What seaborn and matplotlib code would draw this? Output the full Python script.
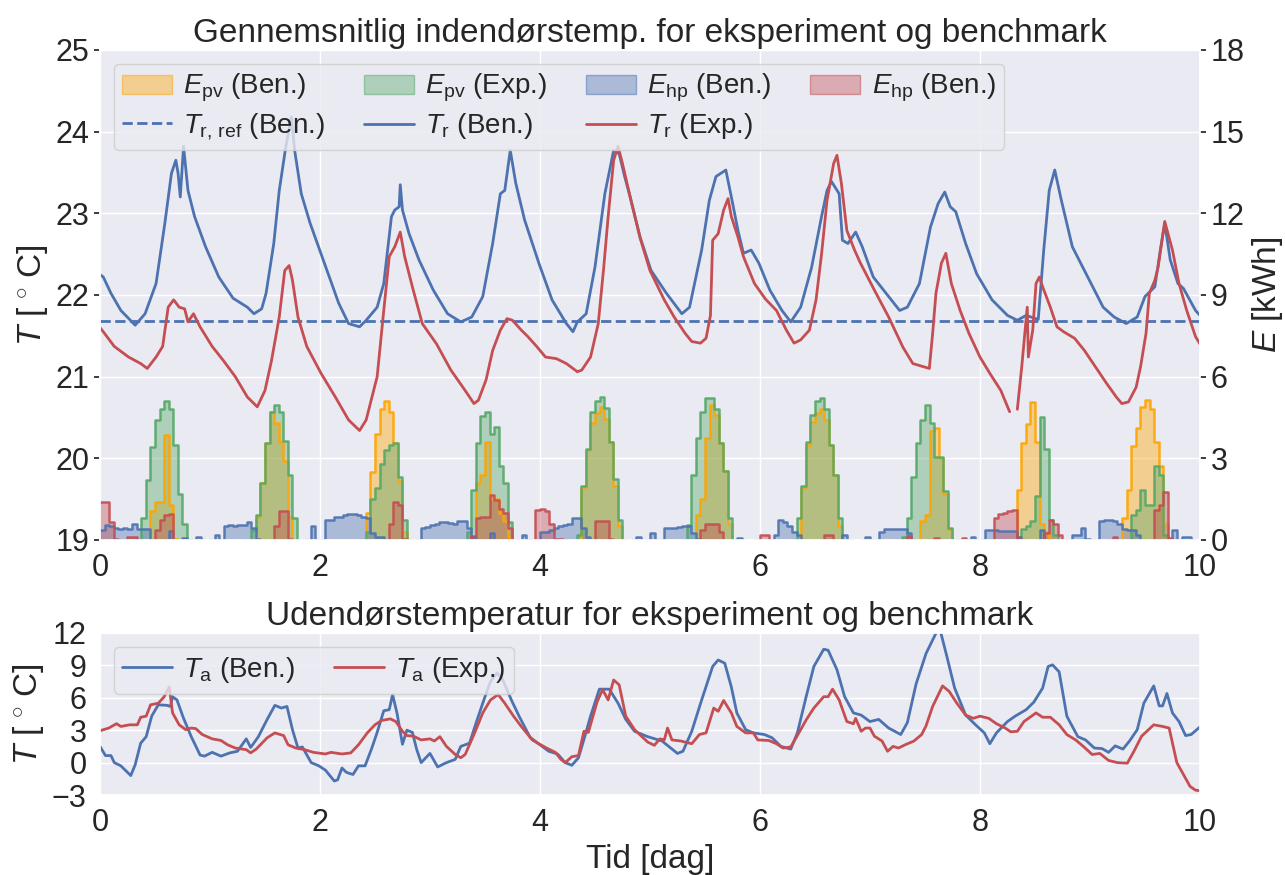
import numpy as np
import matplotlib
matplotlib.use("Agg")
import matplotlib.pyplot as plt
import seaborn as sns
from matplotlib.patches import Patch
from matplotlib.lines import Line2D
from matplotlib.colors import to_rgba

# --- indendørstemperatur (tid i dage, T i grader C) ---
tr_ben_t = [0.0, 0.03, 0.10, 0.19, 0.32, 0.41, 0.51, 0.59, 0.65, 0.69, 0.71, 0.73, 0.76, 0.80, 0.86, 0.96,
            1.08, 1.21, 1.34, 1.40, 1.47, 1.51, 1.58, 1.63, 1.69, 1.74, 1.77, 1.83, 1.91, 2.04, 2.17, 2.26,
            2.36, 2.42, 2.52, 2.58, 2.65, 2.68, 2.72, 2.73, 2.75, 2.81, 2.90, 3.03, 3.16, 3.28, 3.38, 3.48,
            3.57, 3.64, 3.68, 3.73, 3.78, 3.86, 3.99, 4.11, 4.24, 4.30, 4.34, 4.42, 4.50, 4.59, 4.67, 4.72,
            4.77, 4.82, 4.91, 5.01, 5.15, 5.29, 5.36, 5.47, 5.54, 5.60, 5.69, 5.74, 5.80, 5.85, 5.92, 5.99,
            6.09, 6.20, 6.28, 6.37, 6.47, 6.56, 6.61, 6.65, 6.72, 6.75, 6.80, 6.87, 6.93, 7.03, 7.17, 7.27,
            7.34, 7.45, 7.55, 7.62, 7.68, 7.73, 7.78, 7.87, 7.97, 8.11, 8.25, 8.34, 8.42, 8.53, 8.58, 8.63,
            8.68, 8.74, 8.84, 8.98, 9.12, 9.22, 9.33, 9.43, 9.50, 9.59, 9.64, 9.68, 9.73, 9.80, 9.85, 9.96, 10.0]
tr_ben = [22.25, 22.22, 22.02, 21.81, 21.63, 21.77, 22.14, 22.88, 23.49, 23.65, 23.49, 23.2, 23.82, 23.28, 22.96, 22.59,
          22.22, 21.96, 21.85, 21.77, 21.83, 22.02, 22.63, 23.28, 23.82, 24.18, 23.77, 23.24, 22.88, 22.39, 21.9, 21.65,
          21.61, 21.69, 21.85, 22.14, 22.96, 23.04, 23.08, 23.35, 23.04, 22.75, 22.43, 22.06, 21.77, 21.67, 21.73, 21.98,
          22.63, 23.24, 23.28, 23.77, 23.37, 22.92, 22.39, 21.94, 21.65, 21.55, 21.67, 21.77, 22.34, 23.24, 23.77, 23.73,
          23.45, 23.2, 22.71, 22.3, 22.02, 21.77, 21.85, 22.55, 23.16, 23.45, 23.53, 23.2, 22.79, 22.51, 22.55, 22.39,
          22.06, 21.81, 21.67, 21.85, 22.34, 22.96, 23.28, 23.39, 23.24, 22.67, 22.63, 22.77, 22.59, 22.22, 21.98, 21.81,
          21.85, 22.14, 22.83, 23.12, 23.26, 23.08, 23.02, 22.63, 22.26, 21.94, 21.75, 21.69, 21.75, 21.7, 22.55, 23.28,
          23.53, 23.16, 22.59, 22.22, 21.85, 21.73, 21.65, 21.73, 21.98, 22.1, 22.55, 22.88, 22.43, 22.14, 22.08, 21.81, 21.75]

tr_exp_t = [0.0, 0.03, 0.13, 0.26, 0.37, 0.43, 0.51, 0.57, 0.62, 0.67, 0.72, 0.77, 0.80, 0.85, 0.91, 1.02,
            1.12, 1.23, 1.34, 1.43, 1.50, 1.56, 1.63, 1.68, 1.72, 1.75, 1.80, 1.88, 2.01, 2.14, 2.26, 2.36,
            2.42, 2.52, 2.58, 2.63, 2.68, 2.73, 2.77, 2.84, 2.93, 3.06, 3.19, 3.32, 3.40, 3.44, 3.51, 3.57,
            3.64, 3.70, 3.75, 3.83, 3.89, 3.97, 4.05, 4.15, 4.24, 4.34, 4.38, 4.46, 4.53, 4.58, 4.62, 4.67,
            4.71, 4.75, 4.82, 4.91, 5.0, 5.13, 5.22, 5.32, 5.38, 5.46, 5.51, 5.55, 5.57, 5.62, 5.67, 5.71,
            5.74, 5.80, 5.85, 5.95, 6.05, 6.15, 6.24, 6.31, 6.37, 6.45, 6.51, 6.56, 6.61, 6.67, 6.70, 6.74,
            6.79, 6.86, 6.91, 7.04, 7.17, 7.30, 7.39, 7.49, 7.54, 7.57, 7.60, 7.65, 7.69, 7.74, 7.82, 7.90,
            8.00, 8.09, 8.19, 8.27, 8.30, 8.34, 8.38, 8.43, 8.44, 8.48, 8.51, 8.54, 8.57, 8.64, 8.70, 8.76,
            8.86, 8.95, 9.05, 9.15, 9.24, 9.29, 9.35, 9.42, 9.46, 9.51, 9.54, 9.59, 9.62, 9.68, 9.75, 9.81,
            9.88, 9.96, 10.0]
tr_exp = [21.6, 21.55, 21.37, 21.24, 21.16, 21.1, 21.24, 21.37, 21.85, 21.94, 21.85, 21.83, 21.67, 21.77, 21.61, 21.37,
          21.2, 21.0, 20.75, 20.63, 20.83, 21.2, 21.73, 22.3, 22.36, 22.18, 21.73, 21.37, 21.04, 20.75, 20.47, 20.34,
          20.47, 21.0, 21.81, 22.47, 22.59, 22.77, 22.47, 22.1, 21.65, 21.4, 21.08, 20.83, 20.67, 20.71, 20.96, 21.32,
          21.57, 21.71, 21.69, 21.57, 21.49, 21.37, 21.24, 21.22, 21.16, 21.06, 21.08, 21.24, 21.65, 22.34, 22.96, 23.65,
          23.82, 23.61, 23.2, 22.7, 22.3, 21.94, 21.73, 21.53, 21.43, 21.41, 21.47, 21.75, 22.67, 22.75, 23.04, 23.18,
          22.96, 22.71, 22.47, 22.14, 21.95, 21.81, 21.57, 21.41, 21.45, 21.57, 21.94, 22.5, 23.16, 23.61, 23.71, 23.37,
          22.79, 22.55, 22.4, 22.06, 21.73, 21.36, 21.16, 21.12, 21.1, 21.53, 22.02, 22.39, 22.51, 22.14, 21.81, 21.53,
          21.24, 21.04, 20.83, 20.57, np.nan, 20.6, 21.12, 21.85, 21.24, 21.57, 22.14, 22.22, 22.1, 21.85, 21.61, 21.55,
          21.47, 21.32, 21.12, 20.92, 20.75, 20.67, 20.69, 20.87, 21.12, 21.53, 22.02, 22.18, 22.34, 22.9, 22.55, 22.14,
          21.81, 21.49, 21.4]
tr_ref = 21.68

# --- energi pr. time [kWh], en raekke pr. dag ---
epv_ben = [
    [0]*11 + [1.05, 1.4, 1.4, 3.85, 1.3, 0.05] + [0]*7,
    [0]*10 + [0.85, 2.1, 3.55, 4.7, 4.3, 3.6, 2.9, 0.85] + [0]*6,
    [0]*10 + [1.0, 2.5, 3.9, 4.8, 5.1, 4.7, 3.55, 2.15, 0.3] + [0]*5,
    [0]*10 + [2.1, 2.4, 3.6, 1.5, 1.5, 1.0, 0.7, 0.1] + [0]*6,
    [0]*9 + [1.9, 3.3, 4.3, 4.65, 4.9, 4.45, 3.6, 2.0, 0.5] + [0]*6,
    [0]*10 + [0.9, 1.5, 3.75, 4.95, 4.6, 3.55, 2.55, 0.6] + [0]*6,
    [0]*9 + [1.9, 3.5, 4.35, 4.65, 4.8, 4.4, 3.5, 2.4, 0.5] + [0]*6,
    [0]*11 + [0.7, 0.9, 4.0, 4.1, 3.0, 1.7, 0.4] + [0]*6,
    [0]*8 + [1.85, 3.55, 4.25, 5.05, 3.6, 0.6, 0.3] + [0]*9,
    [0]*7 + [0.8, 1.85, 3.45, 4.1, 4.9, 5.15, 4.8, 3.6, 2.7, 0.6] + [0]*7,
]
epv_exp = [
    [0]*9 + [0.8, 2.2, 3.4, 4.4, 4.8, 5.1, 4.8, 3.5, 1.7, 0.6] + [0]*5,
    [0]*9 + [0.35, 0.9, 2.1, 3.55, 4.7, 4.95, 4.7, 3.65, 2.4, 0.8] + [0]*5,
    [0]*10 + [0.3, 1.5, 1.9, 2.8, 3.3, 3.5, 3.55, 2.3, 0.75] + [0]*5,
    [0]*8 + [0.3, 1.85, 3.55, 4.55, 4.7, 3.9, 4.15, 2.7, 2.1, 0.65] + [0]*6,
    [0]*8 + [0.2, 2.0, 3.35, 4.7, 5.1, 5.25, 4.85, 3.6, 2.25, 0.75] + [0]*6,
    [0]*8 + [0.55, 2.4, 3.75, 4.7, 5.2, 5.2, 4.8, 3.55, 2.55, 0.8] + [0]*6,
    [0]*8 + [0.8, 2.0, 3.6, 4.6, 5.1, 5.2, 4.8, 3.5, 2.4, 0.8] + [0]*6,
    [0]*7 + [0.1, 0.8, 2.3, 3.55, 4.4, 4.95, 4.3, 3.05, 3.05, 1.8, 0.45] + [0]*6,
    [0]*8 + [0.1, 0.4, 0.5, 0.7, 1.6, 4.5, 3.35, 0.75, 0.2] + [0]*7,
    [0]*9 + [0.9, 1.1, 1.85, 1.3, 1.3, 2.7, 2.4, 0.2] + [0]*7,
]
ehp_ben = [
    [0.37, 0.55, 0.5, 0.45, 0.4, 0.45, 0.42, 0.6, 0.4, 0.4, 0.4, 0, 0, 0, 0, 0.33, 0, 0, 0.06, 0, 0, 0.12, 0, 0],
    [0, 0.2, 0, 0.5, 0.55, 0.5, 0.55, 0.55, 0.67, 0.43, 0.05] + [0]*11 + [0.5, 0],
    [0, 0.75, 0.75, 0.85, 0.85, 0.9, 0.95, 0.95, 0.9, 0.85, 0.8, 0.25, 0.12, 0.1] + [0]*8 + [0.43, 0.49],
    [0.55, 0.6, 0.67, 0.65, 0.62, 0.6, 0.7, 0.7, 0.43, 0.1, 0, 0, 0, 0.25] + [0]*6 + [0.18, 0, 0, 0],
    [0.3, 0.3, 0.35, 0.45, 0.5, 0.55, 0.6, 0.8, 0.8, 0.45, 0.1] + [0]*10 + [0.12, 0, 0],
    [0.25, 0, 0, 0.43, 0.45, 0.45, 0.47, 0.5, 0.5, 0.25, 0.05] + [0]*8 + [0.06, 0, 0, 0, 0],
    [0, 0, 0, 0.18, 0.74, 0.67, 0.5, 0.3, 0.18] + [0]*9 + [0.2, 0, 0, 0, 0, 0.12],
    [0, 0, 0.3, 0.4, 0.4, 0.42, 0.42, 0.4, 0.25] + [0]*13 + [0.12, 0],
    [0, 0.37, 0.37, 0.35, 0.33, 0.33, 0.33, 0.33, 0.1, 0, 0, 0, 0, 0.37] + [0]*6 + [0.18, 0.18, 0.43, 0.05],
    [0, 0, 0.7, 0.72, 0.72, 0.7, 0.6, 0.4, 0.37, 0.35, 0.2] + [0]*7 + [0.37, 0, 0.1, 0.1, 0, 0],
]
ehp_exp = [
    [1.4, 1.4, 0.65, 0.05, 0, 0, 0.12, 0.12, 0, 0, 0, 0, 0.35, 0.75, 0.9, 0.95] + [0]*8,
    [0]*14 + [0.5, 1.05, 1.05, 0.05] + [0]*6,
    [0]*15 + [0.6, 1.4, 1.3, 0.05] + [0]*5,
    [0]*9 + [0.15, 0.8, 0.85, 0.85, 1.65, 1.45, 1.15, 1.0, 0.45] + [0]*5 + [1.1],
    [1.15, 1.05, 0.6, 0.05, 0.05] + [0]*7 + [0.7, 0.7, 0.7, 0.05] + [0]*8,
    [0]*11 + [0.35, 0.6, 0.6, 0.6, 0.3] + [0]*8,
    [0.18, 0.18] + [0]*12 + [0.2, 0.2] + [0]*8,
    [0]*8 + [0.15] + [0]*5 + [0.06] + [0]*5 + [0.06] + [0]*3,
    [0, 0, 0, 0.8, 0.95, 1.0, 1.05, 1.1, 0.05, 0, 0, 0, 0, 0, 0.25, 0.75, 0.6, 0.18] + [0]*6,
    [0, 0, 0, 0, 0, 0.12] + [0]*8 + [1.1, 1.3, 1.75, 0.06] + [0]*6,
]

# --- udendørstemperatur ---
ta_ben_t = [0.0, 0.05, 0.10, 0.13, 0.19, 0.28, 0.32, 0.37, 0.42, 0.47, 0.53, 0.61, 0.64, 0.66, 0.70, 0.76,
            0.83, 0.91, 0.95, 1.02, 1.10, 1.18, 1.25, 1.33, 1.37, 1.44, 1.52, 1.59, 1.65, 1.70, 1.75, 1.80,
            1.84, 1.92, 1.99, 2.05, 2.13, 2.16, 2.20, 2.24, 2.30, 2.35, 2.41, 2.47, 2.52, 2.58, 2.63, 2.66,
            2.70, 2.75, 2.79, 2.84, 2.88, 2.92, 3.00, 3.07, 3.15, 3.23, 3.28, 3.36, 3.42, 3.49, 3.55, 3.61,
            3.66, 3.74, 3.81, 3.91, 3.98, 4.08, 4.16, 4.23, 4.29, 4.35, 4.40, 4.46, 4.54, 4.63, 4.71, 4.78,
            4.86, 4.98, 5.11, 5.25, 5.30, 5.38, 5.47, 5.57, 5.62, 5.68, 5.74, 5.79, 5.87, 5.94, 6.04, 6.11,
            6.19, 6.28, 6.34, 6.42, 6.49, 6.58, 6.62, 6.70, 6.77, 6.85, 6.92, 7.00, 7.08, 7.17, 7.28, 7.34,
            7.42, 7.51, 7.63, 7.70, 7.77, 7.87, 7.96, 8.04, 8.09, 8.15, 8.25, 8.32, 8.42, 8.49, 8.57, 8.62,
            8.66, 8.72, 8.79, 8.89, 8.96, 9.04, 9.11, 9.17, 9.23, 9.30, 9.36, 9.43, 9.49, 9.58, 9.63, 9.66,
            9.70, 9.75, 9.81, 9.87, 9.92, 10.0]
ta_ben = [1.5, 0.65, 0.65, 0.0, -0.3, -1.2, -0.2, 1.8, 2.4, 4.3, 5.35, 5.3, 5.2, 6.1, 5.8, 4.1,
          2.4, 0.7, 0.6, 0.95, 0.6, 0.9, 1.05, 2.2, 1.4, 2.4, 4.0, 5.3, 5.05, 5.2, 3.05, 1.35,
          1.45, 0.0, -0.3, -0.7, -1.7, -1.6, -0.5, -0.9, -1.1, -0.3, -0.3, 1.3, 2.8, 4.8, 4.9, 6.3,
          4.6, 1.7, 3.0, 2.8, 1.2, 0.0, 0.85, -0.4, 0.0, 0.3, 1.5, 1.8, 3.7, 5.8, 7.5, 8.3,
          7.7, 5.8, 4.3, 2.35, 1.8, 1.05, 0.8, 0.0, -0.25, 0.45, 2.15, 4.3, 6.8, 6.8, 5.5, 4.0,
          2.9, 2.4, 2.0, 0.85, 1.05, 2.9, 5.8, 8.9, 9.5, 9.2, 7.0, 4.6, 3.05, 2.75, 2.6, 2.3,
          1.5, 1.25, 2.75, 6.1, 8.9, 10.5, 10.4, 8.6, 6.1, 4.6, 4.4, 3.8, 4.0, 3.2, 2.6, 3.7,
          7.3, 10.1, 12.6, 9.8, 6.9, 4.4, 3.5, 2.75, 1.75, 2.75, 3.8, 4.3, 4.9, 5.6, 6.9, 8.9,
          9.05, 8.4, 4.3, 2.4, 2.1, 1.35, 1.3, 0.95, 1.55, 1.25, 2.0, 3.05, 5.5, 7.1, 5.25, 5.25,
          6.4, 4.6, 3.8, 2.5, 2.6, 3.3]

ta_exp_t = [0.0, 0.08, 0.15, 0.19, 0.27, 0.34, 0.37, 0.42, 0.46, 0.53, 0.58, 0.63, 0.66, 0.72, 0.78, 0.83,
            0.87, 0.93, 1.02, 1.10, 1.16, 1.23, 1.33, 1.37, 1.42, 1.52, 1.59, 1.67, 1.71, 1.78, 1.86, 1.94,
            2.05, 2.10, 2.20, 2.28, 2.35, 2.43, 2.50, 2.56, 2.64, 2.69, 2.75, 2.79, 2.85, 2.92, 3.00, 3.04,
            3.09, 3.15, 3.23, 3.28, 3.32, 3.40, 3.48, 3.55, 3.62, 3.68, 3.76, 3.83, 3.93, 3.98, 4.06, 4.14,
            4.19, 4.23, 4.29, 4.35, 4.40, 4.44, 4.52, 4.57, 4.62, 4.67, 4.72, 4.78, 4.86, 4.98, 5.04, 5.09,
            5.13, 5.16, 5.20, 5.28, 5.38, 5.45, 5.51, 5.58, 5.62, 5.67, 5.74, 5.79, 5.87, 5.94, 5.98, 6.08,
            6.15, 6.21, 6.28, 6.34, 6.42, 6.49, 6.58, 6.62, 6.66, 6.72, 6.79, 6.85, 6.87, 6.92, 6.96, 7.00,
            7.04, 7.11, 7.16, 7.21, 7.26, 7.32, 7.40, 7.47, 7.51, 7.57, 7.66, 7.72, 7.79, 7.87, 7.94, 8.00,
            8.08, 8.15, 8.23, 8.28, 8.34, 8.40, 8.51, 8.57, 8.64, 8.72, 8.79, 8.87, 8.94, 9.02, 9.09, 9.17,
            9.25, 9.34, 9.40, 9.47, 9.58, 9.66, 9.72, 9.79, 9.85, 9.91, 9.96, 10.0]
ta_exp = [2.95, 3.2, 3.6, 3.35, 3.5, 3.5, 4.2, 4.3, 5.35, 5.5, 6.05, 7.0, 4.6, 3.5, 3.05, 3.2,
          3.15, 2.6, 2.2, 2.05, 1.65, 1.35, 1.2, 0.9, 1.25, 2.3, 2.75, 2.5, 1.65, 1.35, 1.2, 0.95,
          0.8, 0.95, 0.8, 0.9, 1.65, 2.75, 3.5, 3.9, 4.05, 3.8, 2.9, 2.5, 2.45, 2.1, 2.2, 2.0,
          2.4, 1.5, 0.75, 0.45, 0.75, 2.6, 4.6, 5.8, 6.3, 5.5, 4.3, 3.35, 2.1, 1.8, 1.35, 0.95,
          0.3, 0.0, 0.55, 0.65, 2.9, 2.8, 5.65, 6.75, 5.8, 7.65, 7.2, 4.3, 3.05, 1.9, 1.6, 2.2,
          2.1, 3.2, 2.1, 2.0, 1.75, 2.6, 2.75, 5.05, 4.75, 5.75, 4.6, 3.35, 2.75, 2.75, 2.1, 2.05,
          1.75, 1.35, 1.45, 2.5, 3.95, 5.05, 6.1, 6.1, 6.8, 5.8, 3.8, 3.6, 4.1, 2.9, 3.2, 3.2,
          2.45, 2.0, 1.05, 1.5, 1.35, 1.65, 2.0, 2.6, 3.4, 5.2, 7.1, 6.6, 5.5, 4.4, 4.1, 4.3,
          4.1, 3.6, 3.2, 2.85, 2.9, 3.8, 4.6, 4.2, 4.2, 3.5, 2.6, 2.1, 1.5, 0.75, 0.85, 0.2,
          0.0, -0.05, 1.05, 2.45, 3.5, 3.35, 3.2, 0.0, -1.1, -2.2, -2.55, -2.6]

sns.set_theme(style="darkgrid")
plt.rcParams["font.family"] = ["Liberation Sans", "DejaVu Sans"]
plt.rcParams.update({"mathtext.fontset": "custom",
                     "mathtext.rm": "Liberation Sans",
                     "mathtext.it": "Liberation Sans:italic",
                     "mathtext.bf": "Liberation Sans:bold"})

pal = sns.color_palette("deep")
c_blue, c_green, c_red = pal[0], pal[2], pal[3]
c_orange = "orange"
fs_tick, fs_lab, fs_title, fs_leg = 22, 24, 24, 20
leg_kw = dict(handlelength=1.8, handletextpad=0.4, columnspacing=1.4,
              labelspacing=0.25, borderpad=0.3, fontsize=fs_leg)

fig = plt.figure(figsize=(12.85, 8.75), dpi=100)
ax = fig.add_axes([0.0778, 0.3829, 0.856, 0.56])
axb = fig.add_axes([0.0778, 0.0914, 0.856, 0.1852])
ax2 = ax.twinx()

# energi som trappe-kurver
edges = np.arange(241) / 24
for rows, col in [(epv_ben, c_orange), (epv_exp, c_green), (ehp_ben, c_blue), (ehp_exp, c_red)]:
    v = np.concatenate(rows).astype(float)
    v = np.append(v, v[-1])
    ax2.fill_between(edges, v, step="post", color=col, alpha=0.4, lw=0)
    vl = v.copy()
    for i in range(1, len(v) - 1):
        if v[i] == 0 and v[i - 1] == 0 and v[i + 1] == 0:
            vl[i] = np.nan
    ax2.plot(edges, vl, drawstyle="steps-post", color=col, lw=1.8, alpha=0.9)

# indendørstemperatur
ax.axhline(tr_ref, color=c_blue, ls="--", lw=2)
sns.lineplot(x=tr_ben_t, y=tr_ben, ax=ax, color=c_blue, lw=2)
ax.plot(tr_exp_t, tr_exp, color=c_red, lw=2)

ax.set_xlim(0, 10)
ax.set_ylim(19, 25)
ax.set_xticks(range(0, 11, 2))
ax.set_yticks(range(19, 26))
ax2.set_ylim(0, 18)
ax2.set_yticks(range(0, 19, 3))
ax2.grid(False)
ax.tick_params(labelsize=fs_tick)
ax.tick_params(axis="y", left=True, length=4, color="0.15")
ax2.tick_params(labelsize=fs_tick, right=True, length=4, color="0.15")
ax.set_ylabel(r"$T$ [$\,^\circ\,$C]", fontsize=fs_lab)
ax2.set_ylabel(r"$E$ [kWh]", fontsize=fs_lab)
ax.set_title("Gennemsnitlig indendørstemp. for eksperiment og benchmark", fontsize=fs_title)

handles = [
    Patch(facecolor=to_rgba(c_orange, 0.4), edgecolor=to_rgba(c_orange, 0.5)),
    Line2D([], [], color=c_blue, ls="--", lw=2),
    Patch(facecolor=to_rgba(c_green, 0.4), edgecolor=to_rgba(c_green, 0.5)),
    Line2D([], [], color=c_blue, lw=2),
    Patch(facecolor=to_rgba(c_blue, 0.4), edgecolor=to_rgba(c_blue, 0.5)),
    Line2D([], [], color=c_red, lw=2),
    Patch(facecolor=to_rgba(c_red, 0.4), edgecolor=to_rgba(c_red, 0.5)),
]
labels = [r"$E_{\rm pv}$ (Ben.)", r"$T_{\rm r,\,ref}$ (Ben.)",
          r"$E_{\rm pv}$ (Exp.)", r"$T_{\rm r}$ (Ben.)",
          r"$E_{\rm hp}$ (Ben.)", r"$T_{\rm r}$ (Exp.)",
          r"$E_{\rm hp}$ (Ben.)"]
ax2.legend(handles, labels, ncol=4, loc="upper left", **leg_kw)

# udendørstemperatur
sns.lineplot(x=ta_ben_t, y=ta_ben, ax=axb, color=c_blue, lw=2, label=r"$T_{\rm a}$ (Ben.)")
sns.lineplot(x=ta_exp_t, y=ta_exp, ax=axb, color=c_red, lw=2, label=r"$T_{\rm a}$ (Exp.)")
axb.set_xlim(0, 10)
axb.set_ylim(-3, 12)
axb.set_xticks(range(0, 11, 2))
axb.set_yticks(range(-3, 13, 3))
axb.tick_params(labelsize=fs_tick)
axb.set_xlabel("Tid [dag]", fontsize=fs_lab)
axb.set_ylabel(r"$T$ [$\,^\circ\,$C]", fontsize=fs_lab)
axb.set_title("Udendørstemperatur for eksperiment og benchmark", fontsize=fs_title)
axb.legend(ncol=2, loc="upper left", **leg_kw)

fig.savefig("out.png", dpi=100)
